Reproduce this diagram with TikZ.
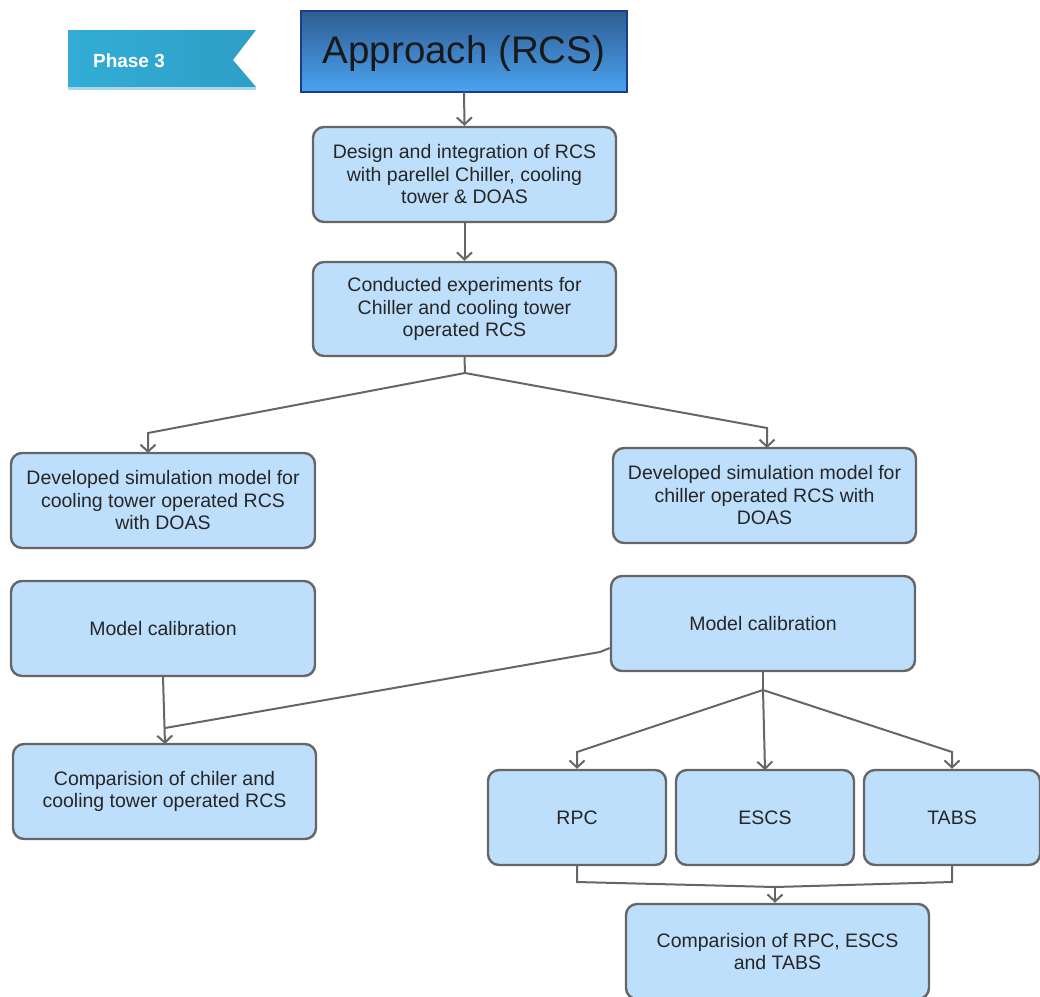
\documentclass[tikz,border=0pt]{standalone}
\usepackage{fontspec}
\setmainfont{Liberation Sans}
\usetikzlibrary{arrows.meta,positioning}
\definecolor{boxfill}{HTML}{BDDFFC}
\definecolor{boxline}{HTML}{666666}
\definecolor{txt}{HTML}{262626}
\definecolor{titletop}{HTML}{2F5D93}
\definecolor{titlebot}{HTML}{4AA3F0}
\definecolor{titleline}{HTML}{1E3A8C}
\definecolor{phase}{HTML}{33ADD6}
\definecolor{phasedark}{HTML}{2E9EC6}
\definecolor{phaseline}{HTML}{A9D9EA}
\tikzset{
  x=1pt, y=-1pt,
  stepbox/.style={draw=boxline, fill=boxfill, line width=2.4pt, rounded corners=11pt,
    align=center, text=txt, font=\fontsize{19.5}{22.5}\selectfont, inner sep=0pt},
  link/.style={draw=boxline, line width=2pt},
  arr/.style={link, -{Straight Barb[length=7pt,width=15pt,line width=2pt]}}
}
\begin{document}
\begin{tikzpicture}
\useasboundingbox (0,0) rectangle (1040,996);

% phase banner with notched right end
\shade[left color=phase, right color=phasedark] (68,30) -- (256,30) -- (233,60) -- (256,87) -- (68,87) -- cycle;
\fill[phaseline] (68,87) rectangle (256,90);
\node[text=white, font=\bfseries\fontsize{19}{22}\selectfont] (phase) at (129,61) {Phase 3};

% title box
\shade[top color=titletop, bottom color=titlebot] (301,11) rectangle (627,92);
\draw[titleline, line width=2pt] (301,11) rectangle (627,92);
\node[font=\fontsize{38.5}{42}\selectfont, text=black!90] (title) at (464,54) {Approach (RCS)};
\coordinate (titlebase) at (464,92);

% process boxes
\node[stepbox, minimum width=303pt, minimum height=95pt] (design) at (464.5,174.5)
  {Design and integration of RCS\\with parellel Chiller, cooling\\tower \& DOAS};
\node[stepbox, minimum width=303pt, minimum height=94pt] (exp) at (464.5,309)
  {Conducted experiments for\\Chiller and cooling tower\\operated RCS};
\node[stepbox, minimum width=304pt, minimum height=95pt] (simL) at (163,500.5)
  {Developed simulation model for\\cooling tower operated RCS\\with DOAS};
\node[stepbox, minimum width=303pt, minimum height=95pt] (simR) at (764.5,495.5)
  {Developed simulation model for\\chiller operated RCS with\\DOAS};
\node[stepbox, minimum width=304pt, minimum height=95pt] (calL) at (163,628.5)
  {Model calibration};
\node[stepbox, minimum width=304pt, minimum height=95pt] (calR) at (763,623.5)
  {Model calibration};
\node[stepbox, minimum width=303pt, minimum height=95pt] (cmpL) at (164.5,791.5)
  {Comparision of chiler and\\cooling tower operated RCS};
\node[stepbox, minimum width=178pt, minimum height=95pt] (rpc) at (577,817.5) {RPC};
\node[stepbox, minimum width=178pt, minimum height=95pt] (escs) at (765,817.5) {ESCS};
\node[stepbox, minimum width=176pt, minimum height=95pt] (tabs) at (952,817.5) {TABS};
\node[stepbox, minimum width=303pt, minimum height=95pt] (cmpR) at (777.5,951.5)
  {Comparision of RPC, ESCS\\and TABS};

% connectors
\draw[arr] (titlebase) -- (design.north);
\draw[arr] (design.south) -- (exp.north);

\coordinate (split1) at (465,373);
\draw[link] (exp.south) -- (split1);
\draw[arr] (split1) -- (148,433) -- (148,453);
\draw[arr] (split1) -- (767,428) -- (767,448);

\coordinate (join1) at (165,728);
\draw[arr] (calL.south) -- (165,744);
\draw[link] (calR.west |- 0,648) -- (600,652) -- (join1);

\coordinate (split2) at (763,690);
\draw[link] (calR.south) -- (split2);
\draw[arr] (split2) -- (577,752) -- (rpc.north);
\draw[arr] (split2) -- (765,770);
\draw[arr] (split2) -- (952,752) -- (tabs.north);

\coordinate (join2) at (775,887);
\draw[link] (rpc.south) -- (577,882) -- (join2) -- (952,882) -- (tabs.south);
\draw[arr] (join2) -- (cmpR.north -| join2);
\end{tikzpicture}
\end{document}
